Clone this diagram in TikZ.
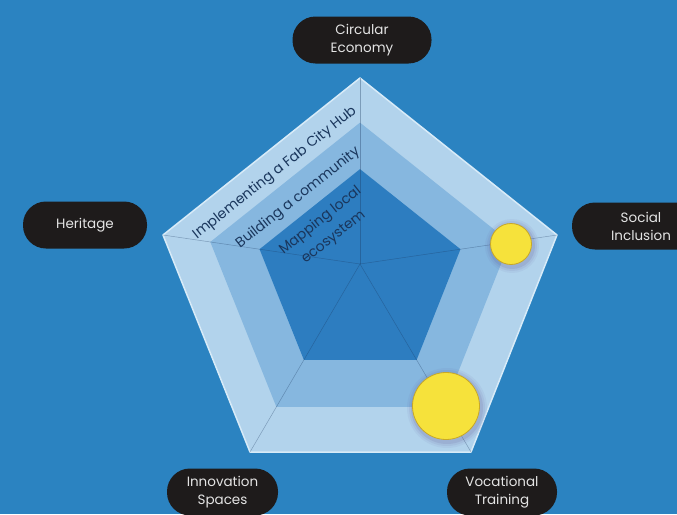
\documentclass[tikz,border=0pt]{standalone}
\usepackage{fontspec}
\setmainfont{Poppins}
\usetikzlibrary{calc}
\definecolor{bg}{HTML}{2B83C1}
\definecolor{bandout}{HTML}{B2D3EC}
\definecolor{bandmid}{HTML}{86B7DF}
\definecolor{bandin}{HTML}{2D7DC0}
\definecolor{edgelight}{HTML}{D8EBF8}
\definecolor{pill}{HTML}{1E1B1B}
\definecolor{pilltext}{HTML}{E4E4E4}
\definecolor{navy}{HTML}{1A365C}
\definecolor{sun}{HTML}{F6E23B}
\definecolor{sunedge}{HTML}{C8A828}
\definecolor{glow}{HTML}{5A4A8A}
\tikzset{
  pillbox/.style={fill=pill, rounded corners=23pt, text=pilltext, font=\fontsize{13.5}{18}\selectfont,
    align=center, minimum height=47pt, inner sep=0pt},
  bandtext/.style={text=navy, font=\fontsize{14}{21}\selectfont, rotate=38.4, inner sep=0pt, align=center},
  spoke/.style={draw=navy, line width=0.5pt, opacity=0.35},
  dot/.style={fill=sun, draw=sunedge, line width=0.8pt},
}
\begin{document}
\begin{tikzpicture}[x=1pt,y=-1pt]
\useasboundingbox (0,0) rectangle (677,514);
\clip (0,0) rectangle (677,514);
\fill[bg] (0,0) rectangle (677,514);
% centre and outer vertices
\coordinate (c) at (360,264);
\coordinate (vt) at (360,78);
\coordinate (vr) at (557,235);
\coordinate (vbr) at (471,452);
\coordinate (vbl) at (250,452);
\coordinate (vl) at (163,235);
% outer band
\fill[bandout, draw=edgelight, line width=1.5pt, line join=round] (vt) -- (vr) -- (vbr) -- (vbl) -- (vl) -- cycle;
% middle band
\fill[bandmid] ($(c)!0.76!(vt)$) -- ($(c)!0.76!(vr)$) -- ($(c)!0.76!(vbr)$) -- ($(c)!0.76!(vbl)$) -- ($(c)!0.76!(vl)$) -- cycle;
% inner
\fill[bandin] ($(c)!0.51!(vt)$) -- ($(c)!0.51!(vr)$) -- ($(c)!0.51!(vbr)$) -- ($(c)!0.51!(vbl)$) -- ($(c)!0.51!(vl)$) -- cycle;
% spokes
\foreach \v in {vt,vr,vbr,vbl,vl} \draw[spoke] (c) -- (\v);
% band texts
\node[bandtext] (t1) at (275,173) {Implementing a Fab City Hub};
\node[bandtext] (t2) at (298,198) {Building a community};
\node[bandtext] (t3) at (327,229) {Mapping local\\ecosystem};
% yellow dots with soft glow
\foreach \r/\o in {6/0.06,4/0.08,2/0.12} {
  \fill[glow, opacity=\o] (512,246) circle (21+\r);
  \fill[glow, opacity=\o] (447,408) circle (34+\r);
}
\node[dot, circle, minimum size=41pt, inner sep=0pt] (d1) at (511,244) {};
\node[dot, circle, minimum size=67pt, inner sep=0pt] (d2) at (446,406) {};
% labels
\node[pillbox, minimum width=139pt] (ce) at (362,40) {Circular\\Economy};
\node[pillbox, minimum width=124pt] (her) at (85,225) {Heritage};
\node[pillbox, minimum width=138pt] (soc) at (641,226) {Social\\Inclusion};
\node[pillbox, minimum width=111pt] (inn) at (222.5,492) {Innovation\\Spaces};
\node[pillbox, minimum width=110pt] (voc) at (502,492) {Vocational\\Training};
\end{tikzpicture}
\end{document}
